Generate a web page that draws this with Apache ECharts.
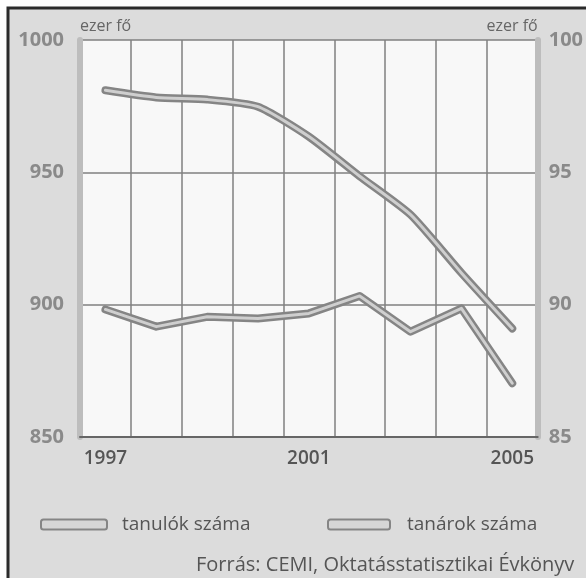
<!DOCTYPE html>
<html>
  <head>
    <meta charset="UTF-8" />
    <title>Tanulók és tanárok száma</title>
    <script src="https://cdn.jsdelivr.net/npm/echarts@6/dist/echarts.min.js"></script>
    <style>
      body { margin: 0; background: #fff; }
    </style>
  </head>
  <body>
    <div id="chart" style="width: 586px; height: 578px"></div>
  </body>
  <script>
    // years on the x axis
    const years = ["1997", "1998", "1999", "2000", "2001", "2002", "2003", "2004", "2005"];
    // students, thousand (left axis)
    const tanulok = [981, 978.3, 977.5, 974.8, 963.5, 948.5, 934, 912, 891];
    // teachers, thousand (right axis)
    const tanarok = [89.82, 89.17, 89.54, 89.48, 89.67, 90.33, 88.98, 89.86, 87.03];
    const leftTicks = [850, 1000, 50];
    const rightTicks = [85, 100, 5];

    const font = "Open Sans";
    let myChart = echarts.init(document.getElementById("chart"));

    // one thick dark stroke + a thin light stroke on top gives the double line look
    function doubleLine(name, data, yIdx, smooth) {
      return [
        {
          name: name,
          type: "line",
          yAxisIndex: yIdx,
          data: data,
          smooth: smooth,
          symbol: "none",
          lineStyle: { color: "#858585", width: 8, cap: "round", join: "round" },
          z: 3,
        },
        {
          name: name + "_belso",
          type: "line",
          yAxisIndex: yIdx,
          data: data,
          smooth: smooth,
          symbol: "none",
          lineStyle: { color: "#cfcfcf", width: 3, cap: "round", join: "round" },
          z: 4,
        },
      ];
    }

    const legendBase = {
      top: 510,
      icon: "roundRect",
      itemHeight: 10,
      itemStyle: { color: "#d6d6d6", borderColor: "#858585", borderWidth: 2 },
    };

    myChart.setOption({
      backgroundColor: "#fff",
      animation: false,
      graphic: {
        elements: [
          {
            type: "rect",
            z: -100,
            shape: { x: 8, y: 8, width: 620, height: 620 },
            style: { fill: "#dcdcdc", stroke: "#2b2b2b", lineWidth: 3 },
          },
          {
            type: "text",
            left: 196,
            top: 555,
            style: {
              text: "Forrás: CEMI, Oktatásstatisztikai Évkönyv",
              font: "20px '" + font + "'",
              fill: "#555",
            },
          },
        ],
      },
      grid: {
        left: 80,
        right: 46,
        top: 40,
        bottom: 141,
        show: true,
        backgroundColor: "#f8f8f8",
        borderWidth: 0,
      },
      legend: [
        Object.assign({}, legendBase, {
          data: ["tanulók száma"],
          left: 35,
          itemWidth: 66,
          textStyle: { fontFamily: font, fontSize: 19, color: "#555", padding: [0, 0, 0, 10] },
        }),
        Object.assign({}, legendBase, {
          data: ["tanárok száma"],
          left: 322,
          itemWidth: 62,
          textStyle: { fontFamily: font, fontSize: 19, color: "#555", padding: [0, 0, 0, 12] },
        }),
      ],
      xAxis: {
        type: "category",
        data: years,
        boundaryGap: true,
        axisLine: { lineStyle: { color: "#666", width: 2 } },
        axisTick: { show: false },
        axisLabel: {
          interval: 3,
          margin: 12,
          fontFamily: font,
          fontSize: 19,
          fontWeight: 600,
          color: "#555",
        },
        splitLine: { show: true, interval: 0, lineStyle: { color: "#808080", width: 1.5 } },
      },
      yAxis: [
        {
          type: "value",
          min: leftTicks[0],
          max: leftTicks[1],
          interval: leftTicks[2],
          name: "ezer fő",
          nameGap: 6,
          nameTextStyle: { fontFamily: font, fontSize: 16, color: "#666", align: "left" },
          axisLine: { show: true, lineStyle: { color: "#bdbdbd", width: 6 } },
          axisTick: { show: false },
          axisLabel: {
            margin: 16,
            fontFamily: font,
            fontSize: 20,
            fontWeight: "bold",
            color: "#8a8a8a",
            formatter: (v) => String(v),
          },
          splitLine: { lineStyle: { color: "#808080", width: 1.5 } },
        },
        {
          type: "value",
          position: "right",
          min: rightTicks[0],
          max: rightTicks[1],
          interval: rightTicks[2],
          name: "ezer fő",
          nameGap: 6,
          nameTextStyle: { fontFamily: font, fontSize: 16, color: "#666", align: "right" },
          axisLine: { show: true, lineStyle: { color: "#bdbdbd", width: 6 } },
          axisTick: { show: false },
          axisLabel: {
            margin: 11,
            fontFamily: font,
            fontSize: 20,
            fontWeight: "bold",
            color: "#8a8a8a",
          },
          splitLine: { show: false },
        },
      ],
      series: [].concat(
        doubleLine("tanulók száma", tanulok, 0, 0.2),
        doubleLine("tanárok száma", tanarok, 1, false)
      ),
    });
  </script>
</html>
